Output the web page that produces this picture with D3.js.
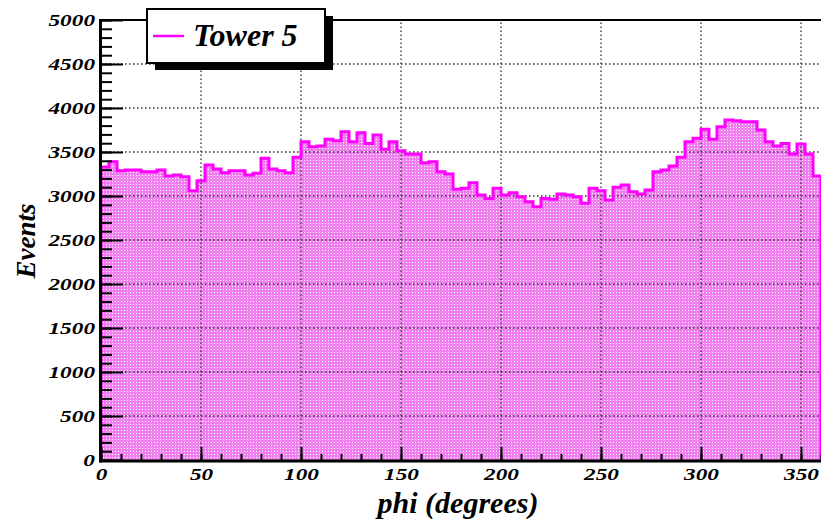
<!DOCTYPE html>
<html>
<head>
<meta charset="utf-8">
<script src="https://cdn.jsdelivr.net/npm/d3@7"></script>
<style>
  body { margin: 0; background: #fff; }
  svg { display: block; }
  text { font-family: "Liberation Serif", "Times New Roman", serif; font-weight: bold; font-style: italic; fill: #000; }
</style>
</head>
<body>
<div id="chart"></div>
<script>
// histogram of events per 4 degree phi bin (90 bins, 0-360)
const binWidth = 4;
const counts = [
  3330, 3390, 3288, 3295, 3295, 3276, 3276, 3295, 3227, 3238,
  3220, 3060, 3174, 3352, 3307, 3265, 3288, 3288, 3238, 3258,
  3428, 3307, 3286, 3265, 3440, 3617, 3561, 3568, 3644, 3629,
  3731, 3617, 3720, 3598, 3693, 3530, 3617, 3515, 3477, 3477,
  3379, 3390, 3276, 3250, 3076, 3087, 3151, 3011, 2973, 3087,
  3011, 3038, 2992, 2936, 2879, 2973, 2962, 3023, 3011, 2992,
  2917, 3087, 3060, 2955, 3099, 3125, 3049, 3023, 3068, 3276,
  3295, 3341, 3440, 3617, 3655, 3758, 3644, 3788, 3864, 3856,
  3845, 3845, 3750, 3617, 3568, 3598, 3477, 3591, 3477, 3227
];
const xTicks = [0, 50, 100, 150, 200, 250, 300, 350];
const yTicks = [0, 500, 1000, 1500, 2000, 2500, 3000, 3500, 4000, 4500, 5000];
const seriesName = "Tower 5";
const xTitle = "phi (degrees)";
const yTitle = "Events";

const W = 821, H = 519;
const stretch = 1.33; // tick labels look horizontally stretched in the original
const serif = '"Liberation Serif", "Times New Roman", serif';

const x = d3.scaleLinear().domain([0, 360]).range([101, 821]);
const y = d3.scaleLinear().domain([0, 5000]).range([460, 20]);

const svg = d3.select("#chart").append("svg")
    .attr("width", W)
    .attr("height", H);

// dotted fill pattern
const pat = svg.append("defs").append("pattern")
    .attr("id", "dots")
    .attr("patternUnits", "userSpaceOnUse")
    .attr("width", 3).attr("height", 3);
pat.append("rect").attr("width", 3).attr("height", 3).attr("fill", "#f080f0");
pat.append("rect").attr("x", 1).attr("y", 1).attr("width", 1).attr("height", 1).attr("fill", "#fff");

// step points for every bin
const pts = counts.flatMap((v, i) => [[i * binWidth, v], [(i + 1) * binWidth, v]]);

svg.append("path")
    .datum(pts)
    .attr("fill", "url(#dots)")
    .attr("d", d3.area().x(d => x(d[0])).y0(y(0)).y1(d => y(d[1])));

// grid
const grid = svg.append("g")
    .attr("stroke", "#333")
    .attr("stroke-width", 1.3)
    .attr("stroke-dasharray", "1.5,2.5");
grid.selectAll(".hg")
  .data(yTicks.filter(d => d > 0 && d < 5000))
  .enter().append("line")
    .attr("x1", x(0)).attr("x2", x(360))
    .attr("y1", d => y(d)).attr("y2", d => y(d));
grid.selectAll(".vg")
  .data(xTicks.filter(d => d > 0))
  .enter().append("line")
    .attr("x1", d => x(d)).attr("x2", d => x(d))
    .attr("y1", y(0)).attr("y2", y(5000));

// outline
svg.append("path")
    .datum([[0, 0]].concat(pts, [[360, 0]]))
    .attr("fill", "none")
    .attr("stroke", "#ff00ff")
    .attr("stroke-width", 3)
    .attr("d", d3.line().x(d => x(d[0])).y(d => y(d[1])));

// y axis, major + minor ticks pointing inwards
const yAxis = svg.append("g").attr("transform", "translate(" + x(0) + ",0)");
yAxis.call(d3.axisLeft(y).tickValues(d3.range(0, 5001, 100)).tickSize(-11).tickFormat(""));
yAxis.append("g").call(d3.axisLeft(y).tickValues(yTicks).tickSize(-22).tickPadding(6).tickFormat(d3.format("d")));
yAxis.selectAll(".domain").remove();
yAxis.selectAll("line").attr("stroke", "#000").attr("stroke-width", 2);
yAxis.selectAll("text")
    .style("font-family", serif)
    .style("font-size", "17.5px")
    .attr("x", -6 / stretch)
    .attr("transform", "scale(" + stretch + ",1)");

// x axis
const xAxis = svg.append("g").attr("transform", "translate(0," + y(0) + ")");
xAxis.call(d3.axisBottom(x).tickValues(d3.range(0, 361, 10)).tickSize(-6).tickFormat(""));
xAxis.append("g").call(d3.axisBottom(x).tickValues(xTicks).tickSize(-13).tickPadding(8).tickFormat(d3.format("d")));
xAxis.selectAll(".domain").remove();
xAxis.selectAll("line").attr("stroke", "#000").attr("stroke-width", 2);
xAxis.selectAll("text")
    .style("font-family", serif)
    .style("font-size", "17.5px")
    .attr("transform", "scale(" + stretch + ",1)");

// frame
svg.append("line")
    .attr("x1", x(0)).attr("x2", x(360)).attr("y1", y(5000)).attr("y2", y(5000))
    .attr("stroke", "#000").attr("stroke-width", 2);
svg.append("line")
    .attr("x1", x(0) - 0.5).attr("x2", x(0) - 0.5).attr("y1", y(5000) - 1).attr("y2", y(0) + 2.5)
    .attr("stroke", "#000").attr("stroke-width", 3);
svg.append("line")
    .attr("x1", x(0) - 2).attr("x2", x(360)).attr("y1", y(0) + 1).attr("y2", y(0) + 1)
    .attr("stroke", "#000").attr("stroke-width", 3);

// axis titles
svg.append("text")
    .attr("transform", "translate(35,241) rotate(-90)")
    .attr("text-anchor", "middle")
    .style("font-size", "27px")
    .text(yTitle);
svg.append("text")
    .attr("x", 458).attr("y", 513)
    .attr("text-anchor", "middle")
    .style("font-size", "30px")
    .text(xTitle);

// legend
const leg = svg.append("g");
leg.append("rect")
    .attr("x", 155).attr("y", 16).attr("width", 178).attr("height", 54)
    .attr("fill", "#000");
leg.append("rect")
    .attr("x", 147).attr("y", 9).attr("width", 178).attr("height", 54)
    .attr("fill", "#fff").attr("stroke", "#000").attr("stroke-width", 2);
leg.append("line")
    .attr("x1", 153).attr("x2", 184).attr("y1", 36).attr("y2", 36)
    .attr("stroke", "#ff00ff").attr("stroke-width", 2.5);
leg.append("text")
    .attr("x", 193).attr("y", 46)
    .style("font-size", "32px")
    .text(seriesName);
</script>
</body>
</html>
